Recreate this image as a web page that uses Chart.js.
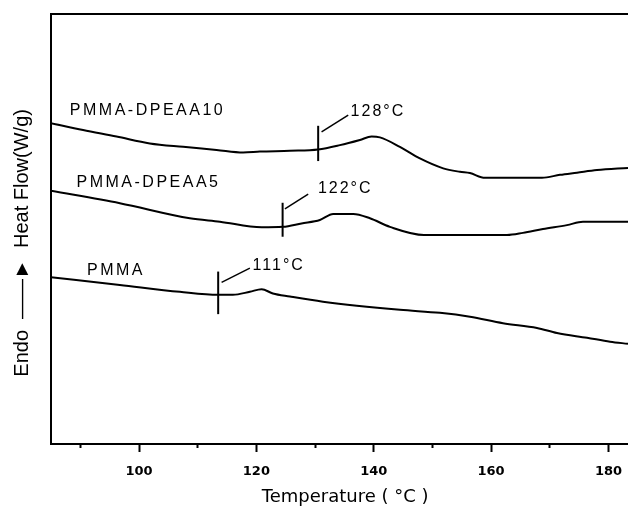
<!DOCTYPE html>
<html><head><meta charset="utf-8">
<script src="https://cdn.jsdelivr.net/npm/chart.js@4.4.1/dist/chart.umd.min.js"></script>
<style>html,body{margin:0;padding:0;background:#fff}</style>
</head><body>
<canvas id="c" width="628" height="508"></canvas>
<script>
// ---- data (temperature °C, heat flow in arbitrary units) ----
const xMin = 85, xMax = 183.33;
const majorTicks = [100, 120, 140, 160, 180];
const minorTicks = [90, 110, 130, 150, 170];

const seriesNames = ['PMMA', 'PMMA-DPEAA5', 'PMMA-DPEAA10'];

const pmmaT  = [85, 96.73, 106.96, 113.49, 115.99, 118.89, 120.89, 122.81, 125.71, 131.34, 144.47, 151.28, 156.4, 162.02, 167.82, 171.23, 176.35, 180.27, 183.33];
const pmmaHF = [3.88, 3.70, 3.54, 3.47, 3.47, 3.54, 3.60, 3.50, 3.43, 3.31, 3.12, 3.05, 2.96, 2.81, 2.70, 2.58, 2.47, 2.38, 2.33];

const dp5T  = [85, 96.73, 108.66, 113.78, 120.89, 124.52, 127.7, 130.82, 133.09, 136.5, 139.35, 142.76, 148.56, 156.4, 162.71, 165.43, 168.84, 172.93, 175.66, 183.33];
const dp5HF = [5.89, 5.60, 5.25, 5.17, 5.04, 5.05, 5.13, 5.21, 5.35, 5.35, 5.25, 5.05, 4.86, 4.86, 4.86, 4.91, 5.00, 5.09, 5.17, 5.17];

const dp10T  = [85, 90.47, 96.17, 101.84, 107.52, 113.21, 117.75, 120.6, 125.71, 130.53, 134.23, 137.64, 139.64, 141.05, 144.46, 147.87, 151.84, 154.69, 156.39, 158.95, 168.67, 171.74, 174.63, 178.04, 183.33];
const dp10HF = [7.46, 7.30, 7.15, 6.99, 6.91, 6.84, 6.78, 6.80, 6.82, 6.85, 6.95, 7.07, 7.15, 7.13, 6.91, 6.64, 6.41, 6.33, 6.30, 6.19, 6.19, 6.26, 6.31, 6.37, 6.42];

// series name labels (anchor in data units)
const nameT  = [91.14, 89.35, 88.21];
const nameHF = [4.03, 6.08, 7.75];

// Tg markers
const tgLabels   = ['111°C', '122°C', '128°C'];
const tgT        = [113.49, 124.47, 130.53];
const tgLowHF    = [3.02, 4.82, 6.58];
const tgHighHF   = [4.01, 5.61, 7.40];
const leadStartT = [114.07, 124.86, 131.11];
const leadStartHF= [3.76, 5.47, 7.26];
const leadEndT   = [118.89, 128.83, 135.65];
const leadEndHF  = [4.09, 5.81, 7.65];
const tgLabelT   = [119.35, 130.48, 136.06];
const tgLabelHF  = [4.16, 5.93, 7.74];

// ---- build datasets ----
const zip = (xs, ys) => xs.map((x, i) => ({x: x, y: ys[i]}));
const curveStyle = {borderColor: '#000', borderWidth: 2, pointRadius: 0, tension: 0.3, cubicInterpolationMode: 'monotone', fill: false};
const datasets = [
  Object.assign({label: seriesNames[0], data: zip(pmmaT, pmmaHF)}, curveStyle),
  Object.assign({label: seriesNames[1], data: zip(dp5T, dp5HF)}, curveStyle),
  Object.assign({label: seriesNames[2], data: zip(dp10T, dp10HF)}, curveStyle)
];
tgT.forEach((t, i) => {
  datasets.push({label: 'tg' + i, data: [{x: t, y: tgLowHF[i]}, {x: t, y: tgHighHF[i]}],
    borderColor: '#000', borderWidth: 2, pointRadius: 0, tension: 0});
  datasets.push({label: 'lead' + i, data: [{x: leadStartT[i], y: leadStartHF[i]}, {x: leadEndT[i], y: leadEndHF[i]}],
    borderColor: '#000', borderWidth: 1.5, pointRadius: 0, tension: 0});
});

const textPlugin = {
  id: 'annotText',
  afterDatasetsDraw(chart) {
    const ctx = chart.ctx, xs = chart.scales.x, ys = chart.scales.y;
    ctx.save();
    ctx.fillStyle = '#000';
    ctx.textAlign = 'left';
    ctx.textBaseline = 'middle';
    ctx.font = '16px "Liberation Sans", Arial, sans-serif';
    ctx.letterSpacing = '2.5px';
    seriesNames.forEach((n, i) => {
      ctx.fillText(n, xs.getPixelForValue(nameT[i]), ys.getPixelForValue(nameHF[i]));
    });
    ctx.letterSpacing = '2px';
    tgLabels.forEach((n, i) => {
      ctx.fillText(n, xs.getPixelForValue(tgLabelT[i]), ys.getPixelForValue(tgLabelHF[i]));
    });
    ctx.restore();
  }
};

const noSidePad = s => { s.paddingLeft = 0; s.paddingRight = 0; };

new Chart(document.getElementById('c'), {
  type: 'line',
  data: {datasets: datasets},
  options: {
    responsive: false,
    animation: false,
    layout: {padding: {top: 14, left: 0, right: 0, bottom: 0}},
    plugins: {legend: {display: false}, tooltip: {enabled: false}},
    scales: {
      x: {
        type: 'linear', position: 'bottom', min: xMin, max: xMax,
        afterBuildTicks: s => { s.ticks = majorTicks.map(v => ({value: v})); },
        afterFit: s => { s.height = 64; noSidePad(s); },
        ticks: {color: '#000', font: {family: 'DejaVu Sans', size: 13, weight: 'bold'}, padding: 12, maxRotation: 0, autoSkip: false},
        grid: {drawOnChartArea: false, drawTicks: true, tickLength: 8, tickWidth: 2, tickColor: '#000'},
        border: {display: true, color: '#000', width: 2},
        title: {display: true, text: '  Temperature ( °C )', color: '#000',
                font: {family: 'DejaVu Sans', size: 18}, padding: {top: 0, bottom: 0}}
      },
      xMinor: {
        type: 'linear', axis: 'x', position: {y: 0}, min: xMin, max: xMax,
        afterBuildTicks: s => { s.ticks = minorTicks.map(v => ({value: v})); },
        afterFit: noSidePad,
        ticks: {display: false},
        grid: {drawOnChartArea: false, drawTicks: true, tickLength: 4, tickWidth: 2, tickColor: '#000'},
        border: {display: false}
      },
      xTop: {
        type: 'linear', axis: 'x', position: 'top', min: xMin, max: xMax,
        afterFit: s => { s.height = 0; noSidePad(s); },
        ticks: {display: false},
        grid: {drawOnChartArea: false, drawTicks: false},
        border: {display: true, color: '#000', width: 2}
      },
      y: {
        type: 'linear', position: 'left', min: 0, max: 10,
        afterFit: s => { s.width = 51; },
        ticks: {display: false},
        grid: {drawOnChartArea: false, drawTicks: false},
        border: {display: true, color: '#000', width: 2},
        title: {display: true, text: 'Endo  ——►  Heat Flow(W/g)     ', color: '#000',
                font: {family: 'Liberation Sans', size: 20}, padding: {top: 10, bottom: 0}}
      }
    }
  },
  plugins: [textPlugin]
});
</script>
</body></html>
